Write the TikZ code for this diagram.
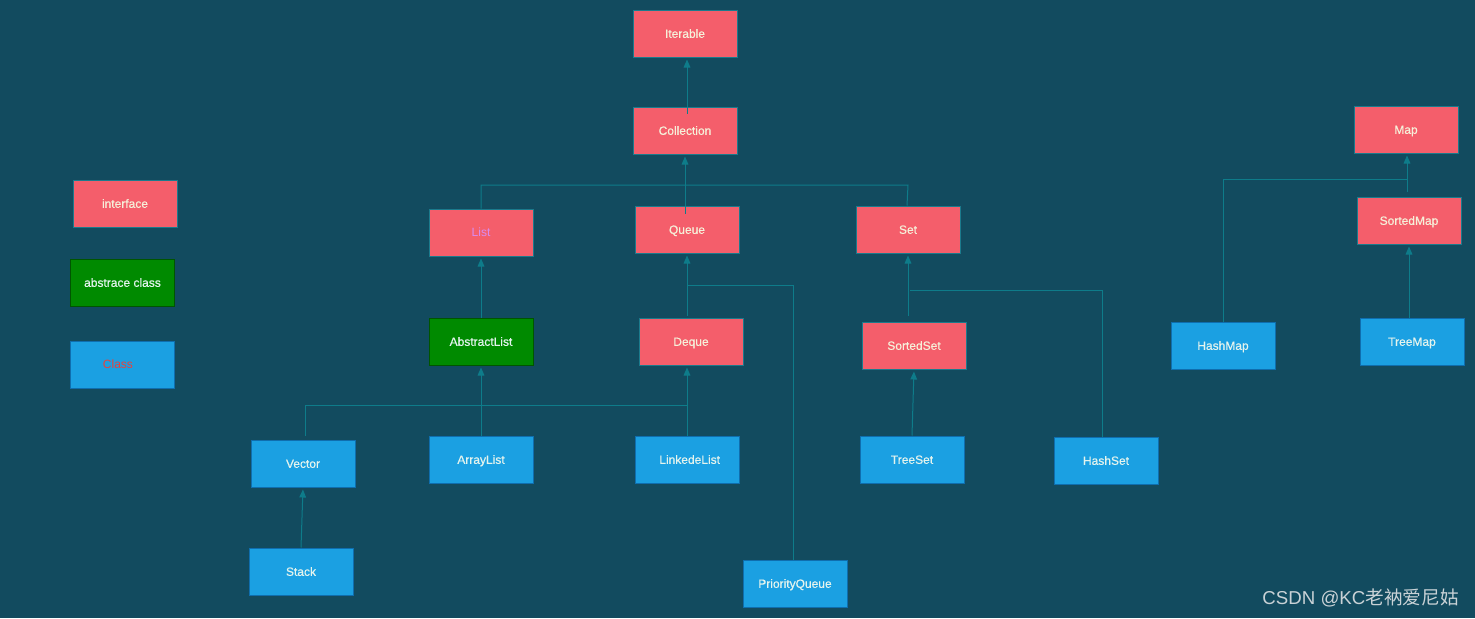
\documentclass[tikz,border=0pt]{standalone}
\usepackage{fontspec}
\setmainfont{Liberation Sans}
\newfontfamily\boxfont[FakeBold=0.5]{Liberation Sans}
\newfontfamily\cjkfont{Noto Sans CJK SC}
\usetikzlibrary{arrows.meta,calc}
\definecolor{bg}{HTML}{124B5F}
\definecolor{pinkfill}{HTML}{F45E6B}
\definecolor{pinkedge}{HTML}{1B7A8C}
\definecolor{bluefill}{HTML}{1BA0E2}
\definecolor{blueedge}{HTML}{0F6EAE}
\definecolor{greenfill}{HTML}{008A00}
\definecolor{greenedge}{HTML}{005500}
\definecolor{txtpink}{HTML}{F6F0DA}
\definecolor{txtblue}{HTML}{E4F4EE}
\definecolor{conncol}{HTML}{0E7C8A}
\definecolor{listtxt}{HTML}{D88CF0}
\definecolor{classtxt}{HTML}{E8423C}
\definecolor{wmark}{HTML}{C9D2D6}
\tikzset{
  box/.style={draw, line width=0.75pt, minimum width=78pt, minimum height=35.25pt, inner sep=0pt, text height=6.5pt, text depth=0pt, font=\boxfont\fontsize{9}{10}\selectfont},
  ibox/.style={box, fill=pinkfill, draw=pinkedge, text=txtpink},
  cbox/.style={box, fill=bluefill, draw=blueedge, text=txtblue},
  abox/.style={box, fill=greenfill, draw=greenedge, text=txtblue},
  plainlabel/.style={font=\rmfamily\fontsize{9}{10}\selectfont},
  conn/.style={draw=conncol, line width=0.75pt},
  arr/.style={conn, -{Triangle[length=6pt,width=5pt]}, shorten >=1.5pt},
}
\begin{document}
\begin{tikzpicture}[x=0.75pt,y=-0.75pt]
\fill[bg] (0,0) rectangle (1475,618);
\useasboundingbox (0,0) rectangle (1475,618);
% legend
\node[ibox] (lint) at (125,203.5) {interface};
\node[abox] (labs) at (122.5,282.5) {abstrace class};
\node[cbox, text=classtxt, plainlabel] (lcls) at (122,364.5) {\hspace*{-6pt}Class};
% interfaces
\node[ibox] (iter) at (685,33.5) {Iterable};
\node[ibox] (coll) at (685,130.5) {Collection};
\node[ibox, text=listtxt, plainlabel] (list) at (481,232.5) {List};
\node[ibox] (queue) at (687,229.5) {Queue};
\node[ibox] (set) at (908,229.5) {Set};
\node[abox] (abl) at (481,341.5) {AbstractList};
\node[ibox] (deque) at (691,341.5) {Deque};
\node[ibox] (sset) at (914,345.5) {SortedSet};
\node[ibox] (map) at (1406,129.5) {Map};
\node[ibox] (smap) at (1409,220.5) {SortedMap};
% classes
\node[cbox] (vec) at (303,463.5) {Vector};
\node[cbox] (al) at (481,459.5) {ArrayList};
\node[cbox] (ll) at (687,459.5) {\hspace*{4pt}LinkedeList};
\node[cbox] (ts) at (912,459.5) {TreeSet};
\node[cbox] (hs) at (1106,460.5) {HashSet};
\node[cbox] (stack) at (301,571.5) {Stack};
\node[cbox] (pq) at (795,583.5) {PriorityQueue};
\node[cbox] (hm) at (1223,345.5) {HashMap};
\node[cbox] (tm) at (1412,341.5) {TreeMap};
% connectors
\draw[arr] ($(coll.north)+(2,7)$) -- ($(iter.south)+(2,0)$);
\draw[arr] ($(queue.north)+(-2,8)$) -- ($(coll.south)+(0,0)$);
\coordinate (lsbar) at (0,185);
\draw[conn] (list.north) |- (set.north |- lsbar) -- ($(set.north)+(-1,0)$);
\draw[arr] (abl.north) -- (list.south);
\draw[arr] ($(queue.south |- deque.north)+(0,-2)$) -- (queue.south);
\coordinate (pqj) at (687,285);
\draw[conn] (pqj) -| ($(pq.north)+(-2,0)$);
\draw[arr] (ll.north) -- (ll.north |- deque.south);
\coordinate (vj) at (687,405);
\draw[conn] (vj) -| ($(vec.north)+(2,-4)$);
\draw[arr] (al.north) -- (abl.south);
\draw[arr] (stack.north) -- (vec.south);
\draw[arr] ($(set.south |- sset.north)+(0,-6)$) -- (set.south);
\coordinate (hsj) at (910,290);
\draw[conn] (hsj) -| ($(hs.north)+(-4,0)$);
\draw[arr] (ts.north) -- (sset.south);
\draw[arr] ($(smap.north)+(-2,-5)$) -- ($(map.south)+(1,0)$);
\coordinate (hmj) at (1407,179);
\draw[conn] (hmj) -| (hm.north);
\draw[arr] (tm.north -| smap.south) -- (smap.south);
% watermark
\node[anchor=east, text=wmark, font=\fontsize{14}{15}\selectfont, inner sep=0pt] (wm) at (1459,598) {CSDN @KC{\cjkfont 老衲爱尼姑}};
\end{tikzpicture}
\end{document}
